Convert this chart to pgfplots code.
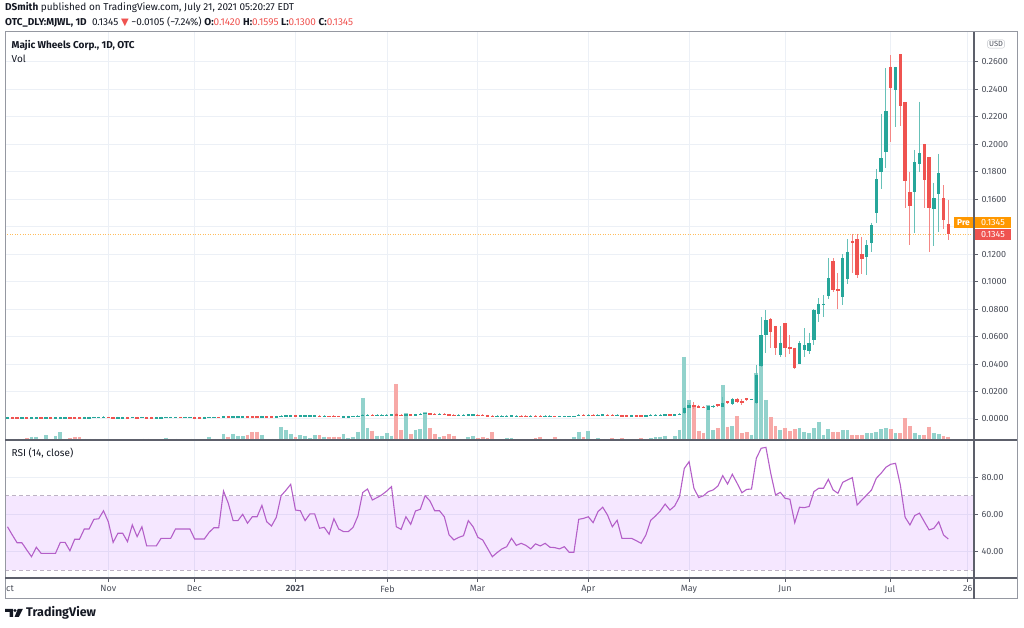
\documentclass[border=0pt]{standalone}
\usepackage{pgfplots}
\pgfplotsset{compat=1.18}
\usepackage{pgfplotstable}
\usepackage{fontspec}
\setmainfont{Fira Sans}
\newfontfamily\symfont{DejaVu Sans}

\definecolor{upc}{HTML}{26A69A}
\definecolor{dnc}{HTML}{EF5350}
\definecolor{upw}{HTML}{67C1B8}
\definecolor{dnw}{HTML}{F48785}
\definecolor{upv}{HTML}{92D2CC}
\definecolor{dnv}{HTML}{F7A9A7}
\definecolor{gridc}{HTML}{ECF0F6}
\definecolor{framec}{HTML}{5D606B}
\definecolor{outerc}{HTML}{9598A1}
\definecolor{txt}{HTML}{131722}
\definecolor{axtxt}{HTML}{4A4E59}
\definecolor{rsic}{HTML}{B45FC8}
\definecolor{bandline}{HTML}{BDB3C4}
\definecolor{pre}{HTML}{FF9800}

% i = bar index, o h l c = price, v = volume (pixel height), r = RSI(14)
\pgfplotstableread{
i o h l c v r
0 0.0010 0.0017 0.0007 0.0014 1 53.4
1 0.0014 0.0017 0.0007 0.0010 0.7 49
2 0.0012 0.0015 0.0005 0.0008 1.3 44.8
3 0.0008 0.0015 0.0005 0.0012 1.3 44.8
4 0.0012 0.0015 0.0005 0.0008 1.7 41
5 0.0007 0.0014 0.0004 0.0011 3.3 37.3
6 0.0008 0.0015 0.0005 0.0012 3.3 42.4
7 0.0012 0.0015 0.0005 0.0008 0.7 39.1
8 0.0008 0.0015 0.0005 0.0012 4.7 39.1
9 0.0012 0.0015 0.0005 0.0008 0.7 39.1
10 0.0009 0.0016 0.0006 0.0013 4 39.1
11 0.0010 0.0017 0.0007 0.0014 7.7 45
12 0.0010 0.0017 0.0007 0.0014 1.3 45
13 0.0013 0.0016 0.0006 0.0009 2 40.5
14 0.0013 0.0016 0.0006 0.0009 3.3 46.7
15 0.0013 0.0016 0.0006 0.0009 2.7 46.7
16 0.0010 0.0017 0.0007 0.0014 1.3 52.2
17 0.0010 0.0017 0.0007 0.0014 1 52.2
18 0.0011 0.0018 0.0008 0.0015 1 57.4
19 0.0011 0.0018 0.0008 0.0015 1 57.7
20 0.0012 0.0019 0.0009 0.0016 1 62
21 0.0015 0.0018 0.0008 0.0011 0.7 56.1
22 0.0014 0.0017 0.0007 0.0010 0.7 45
23 0.0010 0.0017 0.0007 0.0014 0.7 49.9
24 0.0010 0.0017 0.0007 0.0014 0.7 49.9
25 0.0014 0.0017 0.0007 0.0010 0.7 45.4
26 0.0011 0.0018 0.0008 0.0015 0.7 54.4
27 0.0014 0.0017 0.0007 0.0010 0.7 48.1
28 0.0011 0.0018 0.0008 0.0015 1.3 53.4
29 0.0014 0.0017 0.0007 0.0010 1.3 43.1
30 0.0014 0.0017 0.0007 0.0010 0.7 43.1
31 0.0010 0.0017 0.0007 0.0014 0.7 43.1
32 0.0010 0.0017 0.0007 0.0014 0.7 47.2
33 0.0011 0.0018 0.0008 0.0015 2.3 47.2
34 0.0011 0.0018 0.0008 0.0015 0.7 47.2
35 0.0011 0.0018 0.0008 0.0015 1.3 52.2
36 0.0015 0.0018 0.0008 0.0011 0.7 52.2
37 0.0011 0.0018 0.0008 0.0015 0.7 52.2
38 0.0011 0.0018 0.0008 0.0015 1.3 52.2
39 0.0014 0.0017 0.0007 0.0010 0.7 46.8
40 0.0014 0.0017 0.0007 0.0010 0.7 46.8
41 0.0010 0.0017 0.0007 0.0014 1 46.8
42 0.0011 0.0018 0.0008 0.0015 3.3 50.4
43 0.0011 0.0018 0.0008 0.0015 1 52.9
44 0.0015 0.0018 0.0008 0.0011 1 52.9
45 0.0016 0.0023 0.0013 0.0020 6 72.6
46 0.0020 0.0023 0.0013 0.0016 3.3 66
47 0.0015 0.0022 0.0012 0.0019 6 56.7
48 0.0015 0.0022 0.0012 0.0019 4 56.7
49 0.0016 0.0023 0.0013 0.0020 4 60.1
50 0.0019 0.0022 0.0012 0.0015 5.3 55.3
51 0.0019 0.0022 0.0012 0.0015 7.7 58.8
52 0.0019 0.0022 0.0012 0.0015 8.3 58.8
53 0.0017 0.0024 0.0014 0.0021 5 64.9
54 0.0020 0.0023 0.0013 0.0016 1.3 56.1
55 0.0020 0.0023 0.0013 0.0016 1.3 53.8
56 0.0017 0.0024 0.0014 0.0021 0.7 58.5
57 0.0021 0.0028 0.0018 0.0025 13 70.1
58 0.0023 0.0030 0.0020 0.0027 10 73
59 0.0025 0.0032 0.0022 0.0029 5.7 76.2
60 0.0027 0.0030 0.0020 0.0023 2.7 62.4
61 0.0023 0.0030 0.0020 0.0027 4.7 62
62 0.0022 0.0029 0.0019 0.0026 4.3 56.7
63 0.0023 0.0030 0.0020 0.0027 2 60.3
64 0.0023 0.0030 0.0020 0.0027 4.7 60.3
65 0.0024 0.0027 0.0017 0.0020 4.7 52.6
66 0.0020 0.0027 0.0017 0.0024 3.3 53.1
67 0.0022 0.0025 0.0015 0.0018 3 49.4
68 0.0023 0.0026 0.0016 0.0019 3.3 57.7
69 0.0022 0.0025 0.0015 0.0018 3.3 52.2
70 0.0017 0.0024 0.0014 0.0021 6 50.8
71 0.0017 0.0024 0.0014 0.0021 1.7 50.8
72 0.0018 0.0025 0.0015 0.0022 3.3 53.1
73 0.0020 0.0027 0.0017 0.0024 8.3 59.2
74 0.0024 0.0033 0.0022 0.0030 42 71.8
75 0.0027 0.0034 0.0024 0.0031 12 73.7
76 0.0030 0.0033 0.0023 0.0026 9.3 67.8
77 0.0026 0.0033 0.0023 0.0030 4.3 69.1
78 0.0027 0.0034 0.0024 0.0031 4.3 70.6
79 0.0028 0.0035 0.0025 0.0032 7 72.6
80 0.0029 0.0036 0.0026 0.0033 4.3 75
81 0.0034 0.0040 0.0022 0.0026 56 53.4
82 0.0031 0.0034 0.0024 0.0027 10 52
83 0.0029 0.0038 0.0027 0.0035 26.7 58.8
84 0.0033 0.0036 0.0026 0.0029 6 54.7
85 0.0032 0.0039 0.0029 0.0036 10.3 61.9
86 0.0033 0.0040 0.0030 0.0037 11 62.8
87 0.0036 0.0046 0.0034 0.0044 28.3 70.1
88 0.0041 0.0044 0.0034 0.0037 12 67.3
89 0.0039 0.0042 0.0032 0.0035 6 62
90 0.0035 0.0042 0.0032 0.0039 2.7 62
91 0.0038 0.0041 0.0031 0.0034 3.7 58.8
92 0.0034 0.0037 0.0027 0.0030 6 49
93 0.0032 0.0035 0.0025 0.0028 4.3 46.3
94 0.0028 0.0035 0.0025 0.0032 1 47.7
95 0.0028 0.0035 0.0025 0.0032 1 48.6
96 0.0030 0.0037 0.0027 0.0034 2.7 56.7
97 0.0029 0.0036 0.0026 0.0033 4.3 53.4
98 0.0031 0.0034 0.0024 0.0027 1.7 47.7
99 0.0030 0.0033 0.0023 0.0026 2.7 46.3
100 0.0028 0.0031 0.0021 0.0024 2 41.8
101 0.0024 0.0027 0.0017 0.0020 7.7 37.3
102 0.0020 0.0027 0.0017 0.0024 1 39.5
103 0.0020 0.0027 0.0017 0.0024 1 41.5
104 0.0020 0.0027 0.0017 0.0024 2 42.7
105 0.0022 0.0029 0.0019 0.0026 2 47.2
106 0.0021 0.0028 0.0018 0.0025 1 43.4
107 0.0025 0.0028 0.0018 0.0021 1 44.5
108 0.0024 0.0027 0.0017 0.0020 1 43.4
109 0.0020 0.0027 0.0017 0.0024 1 41.5
110 0.0024 0.0027 0.0017 0.0020 1.7 44.2
111 0.0023 0.0026 0.0016 0.0019 2.7 43.1
112 0.0019 0.0026 0.0016 0.0023 1 44.5
113 0.0019 0.0026 0.0016 0.0023 1 42.4
114 0.0022 0.0025 0.0015 0.0018 2.7 42.2
115 0.0018 0.0025 0.0015 0.0022 1 41.5
116 0.0018 0.0025 0.0015 0.0022 1 42.7
117 0.0018 0.0025 0.0015 0.0022 1 39.7
118 0.0018 0.0025 0.0015 0.0022 2.7 39.7
119 0.0024 0.0033 0.0022 0.0031 8.3 57.4
120 0.0030 0.0033 0.0023 0.0026 2.7 57.9
121 0.0027 0.0034 0.0024 0.0031 9.3 58.8
122 0.0030 0.0033 0.0023 0.0026 1 55.6
123 0.0028 0.0035 0.0025 0.0032 1.5 61.5
124 0.0029 0.0036 0.0026 0.0033 1.2 63.9
125 0.0032 0.0035 0.0025 0.0028 1 59.7
126 0.0030 0.0033 0.0023 0.0026 1.5 53.4
127 0.0027 0.0034 0.0024 0.0031 1 56.9
128 0.0028 0.0031 0.0021 0.0024 1.8 47.2
129 0.0028 0.0031 0.0021 0.0024 1 47.2
130 0.0024 0.0031 0.0021 0.0028 1.2 47.2
131 0.0027 0.0030 0.0020 0.0023 1 45.9
132 0.0027 0.0030 0.0020 0.0023 1.5 44.5
133 0.0024 0.0031 0.0021 0.0028 1.2 49
134 0.0026 0.0033 0.0023 0.0030 1.5 56.9
135 0.0027 0.0034 0.0024 0.0031 2.7 59.2
136 0.0028 0.0035 0.0025 0.0032 3.3 61.9
137 0.0030 0.0037 0.0027 0.0034 4.3 65.6
138 0.0033 0.0036 0.0026 0.0029 1 62.4
139 0.0030 0.0037 0.0027 0.0034 3.7 64.6
140 0.0033 0.0042 0.0031 0.0039 10 69.6
141 0.0041 0.0090 0.0035 0.0082 83 84.8
142 0.0082 0.0118 0.0080 0.0100 40 88.4
143 0.0100 0.0121 0.0075 0.0088 34 74.1
144 0.0092 0.0105 0.0080 0.0085 9.3 69.1
145 0.0088 0.0092 0.0082 0.0085 7 70.1
146 0.0068 0.0095 0.0065 0.0092 35 72.3
147 0.0085 0.0100 0.0083 0.0097 10 73.2
148 0.0107 0.0110 0.0090 0.0093 11.7 75.3
149 0.0090 0.0162 0.0085 0.0117 55 80.9
150 0.0128 0.0131 0.0110 0.0114 13.3 76.4
151 0.0107 0.0150 0.0105 0.0146 13.7 81.6
152 0.0146 0.0150 0.0120 0.0126 23.7 76.8
153 0.0131 0.0143 0.0104 0.0124 7 71.7
154 0.0150 0.0153 0.0133 0.0140 7.7 73.5
155 0.0138 0.0148 0.0136 0.0146 5.3 73.7
156 0.0120 0.0390 0.0110 0.0320 67 90.2
157 0.0386 0.0742 0.0380 0.0611 74 95.6
158 0.0610 0.0790 0.0480 0.0720 40 96.1
159 0.0728 0.0735 0.0520 0.0631 23 82.2
160 0.0677 0.0680 0.0466 0.0514 13.7 70.5
161 0.0466 0.0677 0.0451 0.0555 10 71.9
162 0.0697 0.0700 0.0453 0.0519 12.3 68.7
163 0.0525 0.0610 0.0470 0.0510 8.7 68.2
164 0.0519 0.0520 0.0365 0.0369 11 55.6
165 0.0398 0.0568 0.0398 0.0551 12 63.9
166 0.0504 0.0660 0.0450 0.0535 7.7 63.7
167 0.0497 0.0628 0.0470 0.0550 7 64.3
168 0.0575 0.0800 0.0538 0.0793 11.7 72.3
169 0.0764 0.0878 0.0705 0.0837 18.3 74.1
170 0.0830 0.0900 0.0745 0.0840 5.3 74.1
171 0.0897 0.1170 0.0870 0.1024 11 78.9
172 0.1150 0.1170 0.0925 0.0939 7.7 73.2
173 0.0945 0.1060 0.0800 0.0930 7.7 71.4
174 0.0886 0.1200 0.0830 0.1170 9.7 77.3
175 0.1017 0.1310 0.0985 0.1218 9.7 78.6
176 0.1296 0.1350 0.1060 0.1278 4.7 79.8
177 0.1310 0.1350 0.1025 0.1048 4.7 65.1
178 0.1200 0.1327 0.1055 0.1164 4.7 67.8
179 0.1177 0.1300 0.1050 0.1266 6.7 70.5
180 0.1283 0.1430 0.1215 0.1410 6.7 73.2
181 0.1497 0.1820 0.1430 0.1745 8 79.5
182 0.1800 0.2218 0.1672 0.1900 10.7 82.2
183 0.1940 0.2555 0.1830 0.2242 11.7 85.4
184 0.2564 0.2648 0.2017 0.2411 11 87
185 0.2394 0.2565 0.2123 0.2560 6.7 87.5
186 0.2656 0.2658 0.2132 0.2280 6.7 75.9
187 0.2305 0.2305 0.1535 0.1734 22 58.5
188 0.1650 0.1800 0.1266 0.1550 14 54.4
189 0.1654 0.1958 0.1351 0.1868 7 59.4
190 0.1856 0.2309 0.1800 0.1934 4.7 60.7
191 0.2000 0.2005 0.1533 0.1740 5 56.1
192 0.1905 0.1905 0.1213 0.1533 13.3 51.7
193 0.1526 0.1720 0.1261 0.1606 7 52.6
194 0.1635 0.1929 0.1363 0.1788 6 56.1
195 0.1606 0.1700 0.1380 0.1448 4 49
196 0.1420 0.1595 0.1300 0.1345 3.3 46.8
}\bars

\pgfplotsset{
  pane/.style={scale only axis, width=969pt, xmin=-0.521, xmax=201.35,
    axis line style={draw=none}, anchor=south west},
  up/.style={restrict expr to domain={\thisrow{c}-\thisrow{o}}{0:1}},
  down/.style={restrict expr to domain={\thisrow{c}-\thisrow{o}}{-1:-0.00001}},
  % candles and volume are drawn as thick error bars; the plot itself stays invisible
  seg/.style 2 args={draw=none, mark=none, error bars/.cd, y dir=minus, y explicit,
    error mark=none, error bar style={draw=#1, line width=#2, solid}},
  months/.style={xtick={21.0,38.92,59.9,79.17,97.9,121.0,141.98,161.98,183.85,200.04}},
  labfont/.style={font=\fontsize{9}{10}\selectfont, text=axtxt},
}

\begin{document}
\begin{tikzpicture}
\useasboundingbox (0,0) rectangle (1024pt,628pt);

% price pane: grid and price scale
\begin{axis}[pane, at={(5pt,188pt)}, height=408pt,
  ymin=-0.015284, ymax=0.28166, months, xticklabels={},
  ytick={0,0.02,0.04,0.06,0.08,0.1,0.12,0.14,0.16,0.18,0.2,0.22,0.24,0.26},
  yticklabels={0.0000,0.0200,0.0400,0.0600,0.0800,0.1000,0.1200,,0.1600,0.1800,0.2000,0.2200,0.2400,0.2600},
  ytick pos=right, yticklabel pos=right,
  tick align=outside, major tick length=4pt,
  x tick style={draw=none}, y tick style={draw=framec, line width=0.8pt},
  grid=major, major grid style={draw=gridc, line width=1pt},
  yticklabel style={labfont},
]
\addplot[pre!65, line width=0.9pt, dash pattern=on 1pt off 1.5pt] coordinates {(-0.521,0.1345) (201.35,0.1345)};
\end{axis}

% volume
\begin{axis}[pane, hide axis, at={(5pt,188pt)}, height=408pt, ymin=0, ymax=408]
\addplot[up, seg={upv}{3.8pt}] table[x=i, y=v, y error minus expr={\thisrow{v}}] {\bars};
\addplot[down, seg={dnv}{3.8pt}] table[x=i, y=v, y error minus expr={\thisrow{v}}] {\bars};
\end{axis}

% candles
\begin{axis}[pane, hide axis, at={(5pt,188pt)}, height=408pt, ymin=-0.015284, ymax=0.28166]
\addplot[up, seg={upw}{1pt}] table[x=i, y=h, y error minus expr={\thisrow{h}-\thisrow{l}}] {\bars};
\addplot[down, seg={dnw}{1pt}] table[x=i, y=h, y error minus expr={\thisrow{h}-\thisrow{l}}] {\bars};
\addplot[up, seg={upc}{3.4pt}] table[x=i, y expr={max(\thisrow{o},\thisrow{c})},
  y error minus expr={max(abs(\thisrow{c}-\thisrow{o}),0.0011)}] {\bars};
\addplot[down, seg={dnc}{3.4pt}] table[x=i, y expr={max(\thisrow{o},\thisrow{c})},
  y error minus expr={max(abs(\thisrow{c}-\thisrow{o}),0.0011)}] {\bars};
\end{axis}

% RSI pane
\begin{axis}[pane, at={(5pt,50pt)}, height=138pt,
  ymin=25.86, ymax=100.05, months,
  xticklabels={Nov,Dec,\textbf{2021},Feb,Mar,Apr,May,Jun,Jul,26},
  ytick={40,60,80}, yticklabels={40.00,60.00,80.00},
  ytick pos=right, yticklabel pos=right, xtick pos=bottom,
  tick align=outside, major tick length=4pt,
  tick style={draw=framec, line width=0.8pt},
  grid=major, major grid style={draw=gridc, line width=1pt},
  xticklabel style={labfont}, yticklabel style={labfont},
]
\addplot[draw=none, fill={rgb,255:red,153;green,21;blue,255}, fill opacity=0.1]
  coordinates {(-0.521,30) (201.35,30) (201.35,70) (-0.521,70)} -- cycle;
\addplot[bandline, line width=0.8pt, dash pattern=on 4pt off 3pt] coordinates {(-0.521,70) (201.35,70)};
\addplot[bandline, line width=0.8pt, dash pattern=on 4pt off 3pt] coordinates {(-0.521,30) (201.35,30)};
\addplot[rsic, line width=1.1pt] table[x=i, y=r] {\bars};
\end{axis}

\begin{scope}[x=1pt, y=1pt]
% frames
\draw[outerc, line width=1pt] (5,29) rectangle (1017,596);
\draw[framec, line width=1.2pt] (5,188) -- (1017,188);
\draw[framec, line width=1.2pt] (5,50) -- (1017,50);
\draw[framec, line width=1.2pt] (974,29) -- (974,596);

% header
\node[anchor=west, inner sep=0, font=\fontsize{10}{12}\selectfont, text=txt] at (5,620)
  {\textbf{DSmith} published on TradingView.com, July 21, 2021 05:20:27 EDT};
\node[anchor=west, inner sep=0, font=\fontsize{10}{12}\selectfont, text=txt] at (5,606)
  {\textbf{OTC\_DLY:MJWL, 1D}\ \ 0.1345 {\color{dnc}\symfont ▼} −0.0105 (−7.24\%)
   \textbf{O:}{\color{dnc}0.1420} \textbf{H:}{\color{dnc}0.1595} \textbf{L:}{\color{dnc}0.1300} \textbf{C:}{\color{dnc}0.1345}};

% pane titles
\node[anchor=west, inner sep=0, font=\fontsize{10}{12}\selectfont\bfseries, text=txt] at (11.5,582.5) {Majic Wheels Corp., 1D, OTC};
\node[anchor=west, inner sep=0, font=\fontsize{10}{12}\selectfont, text=txt] at (11.5,569) {Vol};
\node[anchor=west, inner sep=0, font=\fontsize{10}{12}\selectfont, text=txt] at (11.5,174.7) {RSI (14, close)};

% price scale extras
\node[draw=outerc!60, rounded corners=2pt, inner sep=1.5pt, font=\fontsize{7.5}{8}\selectfont, text=axtxt] at (996,584) {USD};
\fill[pre] (954,399.5) rectangle (973,411.3);
\node[text=white, inner sep=0, font=\fontsize{8.5}{9}\selectfont\bfseries] at (963.5,405.4) {Pre};
\fill[pre] (975,399.5) rectangle (1010.7,411.3);
\node[text=white, inner sep=0, font=\fontsize{9}{10}\selectfont] at (993,405.4) {0.1345};
\fill[dnc] (975,388) rectangle (1010.7,399.3);
\node[text=white, inner sep=0, font=\fontsize{9}{10}\selectfont] at (993,393.6) {0.1345};

% clipped first month label
\node[anchor=west, inner sep=0, font=\fontsize{9}{10}\selectfont, text=axtxt] at (6,39.5) {ct};

% footer logo
\fill[txt] (5,19) -- (13,19) -- (13,11) -- (9.5,11) -- (9.5,16) -- (5,16) -- cycle;
\fill[txt] (15,17.4) circle (1.6);
\fill[txt] (17.8,19) -- (22.8,19) -- (18.8,11) -- (14.6,11) -- cycle;
\node[anchor=west, inner sep=0, font=\fontsize{12.5}{14}\selectfont\bfseries, text=txt] at (26,15) {TradingView};
\end{scope}
\end{tikzpicture}
\end{document}
